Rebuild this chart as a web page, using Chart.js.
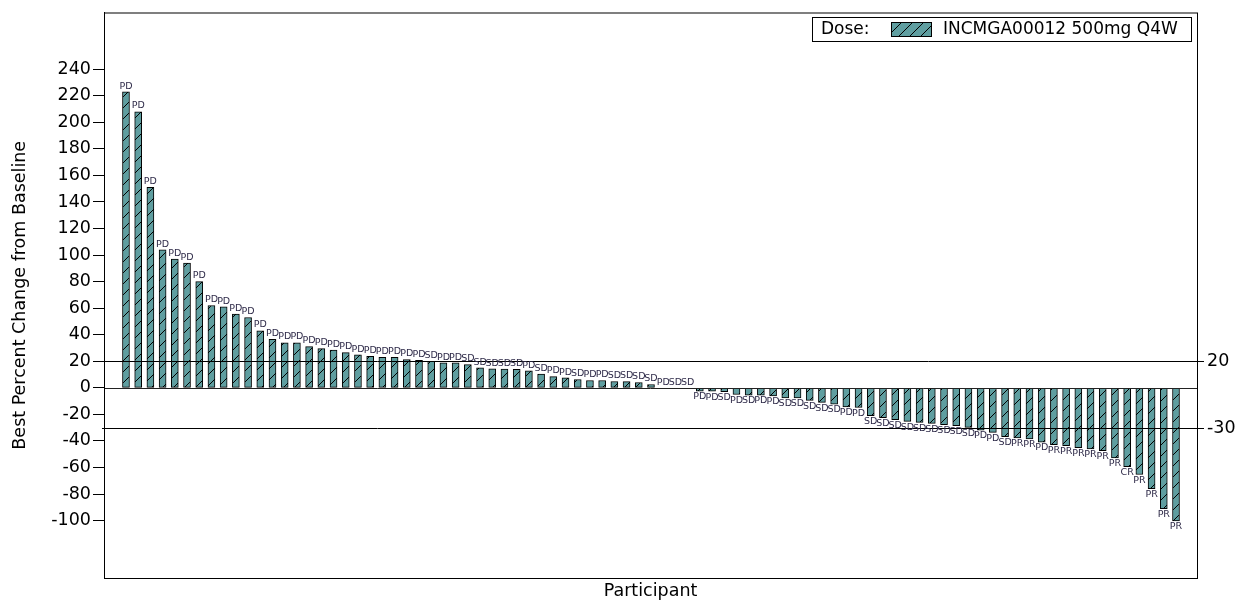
<!DOCTYPE html>
<html>
<head>
<meta charset="utf-8">
<script src="https://cdn.jsdelivr.net/npm/chart.js@4.4.1/dist/chart.umd.min.js"></script>
<style>
  body { margin: 0; background: #fff; }
  #wrap { width: 1247px; height: 603px; }
</style>
</head>
<body>
<div id="wrap"><canvas id="waterfall" width="1247" height="603"></canvas></div>
<script>
// best % change from baseline, one bar per participant (sorted)
const bestChange = [
  223, 208, 151, 104, 97, 94, 80, 62, 61, 55.5,
  53, 43, 36.5, 34, 34, 31, 29.5, 28.5, 26.5, 24.8,
  23.8, 23, 23, 21.3, 20.8, 20, 18.8, 18.8, 17.5, 15,
  14.3, 14.2, 14, 12.8, 10.3, 8.5, 7.5, 6.3, 5.5, 5.5,
  4.8, 4.7, 4, 2.5, -0.5, 0, 0, -2.5, -2.6, -2.8,
  -5, -5.5, -5.5, -6, -7.5, -7.5, -9.5, -11, -12.3, -14.3,
  -14.8, -21, -22.5, -24, -25.3, -26, -26.8, -27.8, -28.5, -29.8,
  -31.8, -33.5, -36.8, -37.8, -38.5, -41, -42.8, -43.5, -45, -46,
  -47.3, -52.8, -59.3, -65.3, -76, -91, -100.3
];

const responses = [
  "PD", "PD", "PD", "PD", "PD", "PD", "PD", "PD", "PD", "PD",
  "PD", "PD", "PD", "PD", "PD", "PD", "PD", "PD", "PD", "PD",
  "PD", "PD", "PD", "PD", "PD", "SD", "PD", "PD", "SD", "SD",
  "SD", "SD", "SD", "PD", "SD", "PD", "PD", "SD", "PD", "PD",
  "SD", "SD", "SD", "SD", "PD", "SD", "SD", "PD", "PD", "SD",
  "PD", "SD", "PD", "PD", "SD", "SD", "SD", "SD", "SD", "PD",
  "PD", "SD", "SD", "SD", "SD", "SD", "SD", "SD", "SD", "SD",
  "PD", "PD", "SD", "PR", "PR", "PD", "PR", "PR", "PR", "PR",
  "PR", "PR", "CR", "PR", "PR", "PR", "PR"
];

const participants = bestChange.map((_, i) => i + 1);
const yTicks = [240, 220, 200, 180, 160, 140, 120, 100, 80, 60, 40, 20, 0, -20, -40, -60, -80, -100];
const refLines = [20, -30];
const doseTitle = "Dose:";
const doseLabel = "INCMGA00012 500mg Q4W";

const FONT = "'DejaVu Sans', Verdana, sans-serif";
const TEAL = "#5f9ea0";
const INK = "#000";

const canvas = document.getElementById("waterfall");
const mainCtx = canvas.getContext("2d");

function makeHatch() {
  const size = 11;
  const tile = document.createElement("canvas");
  tile.width = size;
  tile.height = size;
  const g = tile.getContext("2d");
  g.fillStyle = TEAL;
  g.fillRect(0, 0, size, size);
  g.strokeStyle = "#000";
  g.lineWidth = 1;
  g.beginPath();
  g.moveTo(-1, size + 1); g.lineTo(size + 1, -1);
  g.moveTo(-1, 1); g.lineTo(1, -1);
  g.moveTo(size - 1, size + 1); g.lineTo(size + 1, size - 1);
  g.stroke();
  return mainCtx.createPattern(tile, "repeat");
}

const hatch = makeHatch();

const overlayPlugin = {
  id: "overlay",
  afterDatasetsDraw(chart) {
    const { ctx, chartArea: area, scales: { y } } = chart;
    ctx.save();

    // baseline at 0
    const y0 = Math.round(y.getPixelForValue(0)) + 0.5;
    ctx.strokeStyle = "#222";
    ctx.lineWidth = 1;
    ctx.beginPath();
    ctx.moveTo(area.left, y0);
    ctx.lineTo(area.right, y0);
    ctx.stroke();

    // reference lines at +20 / -30 with labels on the right
    ctx.font = "17.5px " + FONT;
    ctx.fillStyle = INK;
    ctx.textAlign = "left";
    ctx.textBaseline = "middle";
    refLines.forEach(v => {
      const py = Math.round(y.getPixelForValue(v)) + 0.5;
      ctx.strokeStyle = "#000";
      ctx.beginPath();
      ctx.moveTo(area.left - 2, py);
      ctx.lineTo(area.right + 7, py);
      ctx.stroke();
      ctx.fillText(String(v), area.right + 10, py);
    });

    // response labels above / below each bar
    const meta = chart.getDatasetMeta(0);
    ctx.font = "9.5px " + FONT;
    ctx.fillStyle = "#2e2a48";
    ctx.textAlign = "center";
    meta.data.forEach((bar, i) => {
      const v = bestChange[i];
      if (v > -1) {
        ctx.textBaseline = "bottom";
        ctx.fillText(responses[i], bar.x, Math.min(bar.y, y0) - 1);
      } else {
        ctx.textBaseline = "top";
        ctx.fillText(responses[i], bar.x, bar.y + 1);
      }
    });
    ctx.restore();
  },
  afterDraw(chart) {
    const { ctx, chartArea: area } = chart;
    ctx.save();
    ctx.strokeStyle = "#000";
    ctx.lineWidth = 1;
    ctx.strokeRect(area.left + 0.5, area.top + 0.5, area.right - area.left, area.bottom - area.top);

    // legend box
    ctx.strokeRect(812.5, 17.5, 379, 24);
    ctx.font = "17px " + FONT;
    ctx.fillStyle = INK;
    ctx.textAlign = "left";
    ctx.textBaseline = "middle";
    ctx.fillText(doseTitle, 821, 30);
    ctx.fillStyle = hatch;
    ctx.fillRect(891, 22, 40, 14);
    ctx.strokeRect(891.5, 22.5, 40, 14);
    ctx.fillStyle = INK;
    ctx.fillText(doseLabel, 943, 30);
    ctx.restore();
  }
};

new Chart(canvas, {
  type: "bar",
  data: {
    datasets: [{
      label: doseLabel,
      data: participants.map((p, i) => ({ x: p, y: bestChange[i] })),
      backgroundColor: hatch,
      borderColor: "#000",
      borderWidth: 1,
      borderSkipped: false,
      barThickness: 7
    }]
  },
  options: {
    responsive: false,
    animation: false,
    layout: { padding: { top: 10, right: 50, bottom: 0, left: 0 } },
    plugins: {
      legend: { display: false },
      tooltip: { enabled: false }
    },
    scales: {
      x: {
        type: "linear",
        offset: false,
        min: -0.8,
        max: 88.72,
        ticks: { display: false },
        grid: { display: false },
        border: { display: false },
        title: {
          display: true,
          text: "Participant",
          color: INK,
          font: { family: FONT, size: 17.5, lineHeight: 1.2 },
          padding: { top: 0, bottom: 1 }
        },
        afterFit: s => { s.height = 25; }
      },
      y: {
        min: -143.25,
        max: 282.75,
        afterBuildTicks: s => { s.ticks = yTicks.map(v => ({ value: v })); },
        ticks: {
          color: INK,
          padding: 2,
          font: { family: FONT, size: 17.5 }
        },
        grid: {
          drawOnChartArea: false,
          drawTicks: true,
          tickLength: 11,
          color: "#000"
        },
        border: { display: true, color: "#000" },
        title: {
          display: true,
          text: "Best Percent Change from Baseline",
          color: INK,
          font: { family: FONT, size: 17.5, lineHeight: 1.2 },
          padding: { top: 10, bottom: 0 }
        },
        afterFit: s => { s.width = 104; }
      }
    }
  },
  plugins: [overlayPlugin]
});
</script>
</body>
</html>
